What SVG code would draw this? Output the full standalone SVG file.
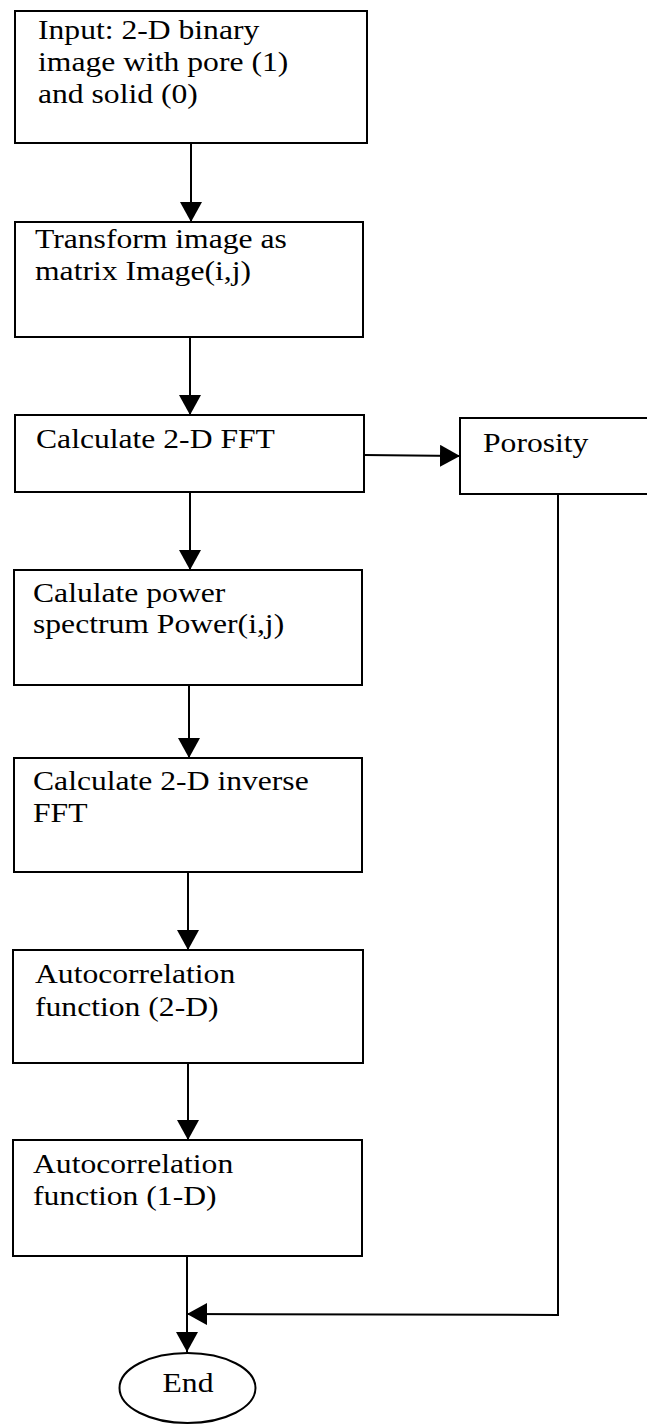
<svg xmlns="http://www.w3.org/2000/svg" width="647" height="1425" viewBox="0 0 647 1425">
  <style>
    .box { fill: #fff; stroke: #000; stroke-width: 2; }
    .lbl { font-family: "Liberation Serif", "Times New Roman", serif; font-size: 28px; fill: #000; }
    .wire { fill: none; stroke: #000; stroke-width: 2; }
  </style>
  <defs>
    <marker id="arrow" markerUnits="userSpaceOnUse" markerWidth="21" markerHeight="22" refX="20" refY="11" orient="auto">
      <path d="M0,0 L20,11 L0,22 Z" fill="#000"/>
    </marker>
  </defs>
  <rect width="647" height="1425" fill="#fff"/>

  <!-- connectors -->
  <g id="connectors">
    <line class="wire" x1="191" y1="143" x2="191" y2="222" marker-end="url(#arrow)"/>
    <line class="wire" x1="190" y1="337" x2="190" y2="415" marker-end="url(#arrow)"/>
    <line class="wire" x1="364" y1="455" x2="460" y2="456" marker-end="url(#arrow)"/>
    <line class="wire" x1="190" y1="492" x2="190" y2="570" marker-end="url(#arrow)"/>
    <line class="wire" x1="189" y1="685" x2="189" y2="758" marker-end="url(#arrow)"/>
    <line class="wire" x1="188" y1="872" x2="188" y2="950" marker-end="url(#arrow)"/>
    <line class="wire" x1="188" y1="1063" x2="188" y2="1140" marker-end="url(#arrow)"/>
    <line class="wire" x1="187" y1="1256" x2="187" y2="1352" marker-end="url(#arrow)"/>
    <polyline class="wire" points="558,494 558,1315 187,1314" marker-end="url(#arrow)"/>
  </g>

  <!-- process steps -->
  <g id="input">
    <rect class="box" x="15" y="11" width="352" height="132"/>
    <g transform="translate(38,39) scale(1.13,1)">
      <text class="lbl"><tspan x="0" y="0">Input: 2-D binary</tspan><tspan x="0" y="32">image with pore (1)</tspan><tspan x="0" y="64">and solid (0)</tspan></text>
    </g>
  </g>

  <g id="transform">
    <rect class="box" x="15" y="222" width="348" height="115"/>
    <g transform="translate(35,248) scale(1.13,1)">
      <text class="lbl"><tspan x="0" y="0">Transform image as</tspan><tspan x="0" y="32">matrix Image(i,j)</tspan></text>
    </g>
  </g>

  <g id="fft">
    <rect class="box" x="15" y="415" width="349" height="77"/>
    <g transform="translate(36,448) scale(1.13,1)">
      <text class="lbl">Calculate 2-D FFT</text>
    </g>
  </g>

  <g id="porosity">
    <rect class="box" x="460" y="418" width="200" height="76"/>
    <g transform="translate(483,452) scale(1.13,1)">
      <text class="lbl">Porosity</text>
    </g>
  </g>

  <g id="power">
    <rect class="box" x="14" y="570" width="348" height="115"/>
    <g transform="translate(33,602) scale(1.13,1)">
      <text class="lbl"><tspan x="0" y="0">Calulate power</tspan><tspan x="0" y="31">spectrum Power(i,j)</tspan></text>
    </g>
  </g>

  <g id="inverse">
    <rect class="box" x="14" y="758" width="348" height="114"/>
    <g transform="translate(33,790) scale(1.13,1)">
      <text class="lbl"><tspan x="0" y="0">Calculate 2-D inverse</tspan><tspan x="0" y="32">FFT</tspan></text>
    </g>
  </g>

  <g id="acf2d">
    <rect class="box" x="13" y="950" width="350" height="113"/>
    <g transform="translate(35,983) scale(1.13,1)">
      <text class="lbl"><tspan x="0" y="0">Autocorrelation</tspan><tspan x="0" y="33">function (2-D)</tspan></text>
    </g>
  </g>

  <g id="acf1d">
    <rect class="box" x="13" y="1140" width="349" height="116"/>
    <g transform="translate(33,1173) scale(1.13,1)">
      <text class="lbl"><tspan x="0" y="0">Autocorrelation</tspan><tspan x="0" y="32">function (1-D)</tspan></text>
    </g>
  </g>

  <g id="end">
    <ellipse class="box" cx="187.5" cy="1388" rx="68" ry="35"/>
    <g transform="translate(188,1392) scale(1.13,1)">
      <text class="lbl" text-anchor="middle">End</text>
    </g>
  </g>
</svg>
